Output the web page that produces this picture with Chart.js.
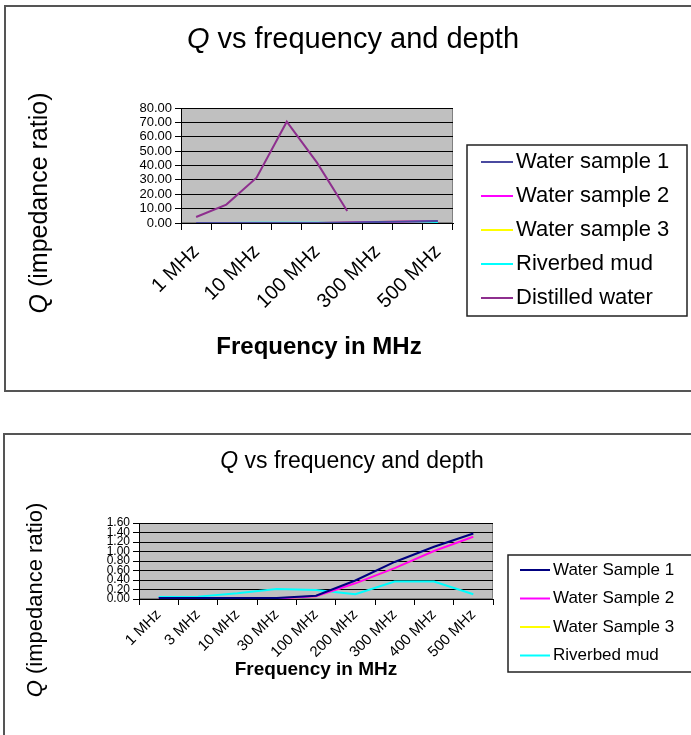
<!DOCTYPE html>
<html>
<head>
<meta charset="utf-8">
<script src="https://cdn.jsdelivr.net/npm/chart.js@4"></script>
<style>
body { margin: 0; background: #fff; width: 691px; height: 735px; overflow: hidden; position: relative; }
.box { position: absolute; border: 2px solid #555; }
#box1 { left: 4px; top: 5px; width: 720px; height: 383px; }
#box2 { left: 3px; top: 433px; width: 720px; height: 330px; }
canvas { position: absolute; left: 0; }
#c1 { top: 0; }
#c2 { top: 420px; }
</style>
</head>
<body>
<div class="box" id="box1"></div>
<div class="box" id="box2"></div>
<canvas id="c1" width="691" height="410"></canvas>
<canvas id="c2" width="691" height="315"></canvas>
<script>
const FAMILY = '"Liberation Sans", Arial, sans-serif'

// categories shared by both charts
const freqLabels = ["1 MHz", "3 MHz", "10 MHz", "30 MHz", "100 MHz", "200 MHz", "300 MHz", "400 MHz", "500 MHz"]

// Q values
const waterSample1 = [0.02, 0.02, 0.02, 0.02, 0.07, 0.39, 0.78, 1.10, 1.38]
const waterSample2 = [0.01, 0.01, 0.01, 0.01, 0.06, 0.33, 0.65, 1.01, 1.31]
const waterSample3 = [0.01, 0.01, 0.01, 0.01, 0.06, 0.33, 0.65, 1.01, 1.31]
const riverbedMud = [0.04, 0.05, 0.12, 0.21, 0.19, 0.10, 0.37, 0.37, 0.10]
const distilledWater = [4.2, 12.8, 31.5, 70.5, 42.0, 8.4, null, null, null]

const topTicks = [0, 80, 10]
const bottomTicks = [0, 1.6, 0.2]

function drawQText(ctx, rest, size, weight, x, y, rotate) {
    ctx.save()
    ctx.translate(x, y)
    if (rotate) ctx.rotate(-Math.PI / 2)
    const fq = "italic " + weight + " " + size + "px " + FAMILY
    const fr = weight + " " + size + "px " + FAMILY
    ctx.font = fq
    const wq = ctx.measureText("Q").width
    ctx.font = fr
    const wr = ctx.measureText(rest).width
    const sx = -(wq + wr) / 2
    ctx.textBaseline = "middle"
    ctx.textAlign = "left"
    ctx.fillStyle = "#000"
    ctx.font = fq
    ctx.fillText("Q", sx, 0)
    ctx.font = fr
    ctx.fillText(rest, sx + wq, 0)
    ctx.restore()
}

const framePlugin = {
    id: "frame",
    beforeDraw(chart) {
        const ctx = chart.ctx
        const a = chart.chartArea
        ctx.save()
        ctx.fillStyle = "#c0c0c0"
        ctx.fillRect(a.left, a.top, a.width, a.height)
        ctx.strokeStyle = "#808080"
        ctx.lineWidth = 1
        ctx.strokeRect(a.left + 0.5, a.top + 0.5, a.width - 1, a.height - 1)
        ctx.restore()
    },
    afterDraw(chart, args, opts) {
        const ctx = chart.ctx
        drawQText(ctx, " vs frequency and depth", opts.title.size, "normal", opts.title.x, opts.title.y, false)
        drawQText(ctx, " (impedance ratio)", opts.yTitle.size, "normal", opts.yTitle.x, opts.yTitle.y, true)

        ctx.save()
        ctx.fillStyle = "#000"
        ctx.textAlign = "center"
        ctx.textBaseline = "middle"
        ctx.font = "bold " + opts.xTitle.size + "px " + FAMILY
        ctx.fillText("Frequency in MHz", opts.xTitle.x, opts.xTitle.y)

        // boxed legend
        const lg = opts.legend
        ctx.strokeStyle = "#222"
        ctx.lineWidth = 1.5
        ctx.strokeRect(lg.x, lg.y, lg.w, lg.h)
        ctx.font = lg.size + "px " + FAMILY
        ctx.textAlign = "left"
        chart.data.datasets.forEach(function (ds, i) {
            const y = lg.rowY + i * lg.rowGap
            ctx.strokeStyle = ds.borderColor
            ctx.lineWidth = 2
            ctx.beginPath()
            ctx.moveTo(lg.lineX, y)
            ctx.lineTo(lg.lineX + lg.lineLen, y)
            ctx.stroke()
            ctx.fillText(ds.label, lg.lineX + lg.lineLen + 3, y)
        })
        ctx.restore()
    }
}

function lineSet(label, data, color) {
    return {
        label: label,
        data: data,
        borderColor: color,
        backgroundColor: color,
        borderWidth: 2,
        pointRadius: 0,
        tension: 0,
        spanGaps: false
    }
}

function makeOptions(cfg) {
    return {
        responsive: false,
        devicePixelRatio: 1,
        animation: false,
        events: [],
        layout: {padding: cfg.padding},
        plugins: {
            legend: {display: false},
            tooltip: {enabled: false},
            frame: cfg.frame
        },
        scales: {
            x: {
                offset: true,
                grid: {offset: true, drawOnChartArea: false, color: "#000", tickLength: cfg.xTickLen},
                border: {color: "#000"},
                ticks: {
                    autoSkip: false,
                    minRotation: 45,
                    maxRotation: 45,
                    padding: cfg.xPad,
                    color: "#000",
                    font: {family: FAMILY, size: cfg.xFont},
                    callback: function (v, i) { return (i % cfg.every === 0) ? freqLabels[i] : "" }
                },
                afterFit: function (s) { s.height = cfg.xHeight }
            },
            y: {
                min: cfg.ticks[0],
                max: cfg.ticks[1],
                grid: {color: "#000", tickLength: 6},
                border: {color: "#000"},
                ticks: {
                    autoSkip: false,
                    stepSize: cfg.ticks[2],
                    padding: 3,
                    color: "#000",
                    font: {family: FAMILY, size: cfg.yFont},
                    callback: function (v) { return v.toFixed(2) }
                },
                afterFit: function (s) { s.width = cfg.yWidth }
            }
        }
    }
}

new Chart(document.getElementById("c1"), {
    type: "line",
    data: {
        labels: freqLabels,
        datasets: [
            lineSet("Water sample 1", waterSample1, "#4a4aa0"),
            lineSet("Water sample 2", waterSample2, "#ff00ff"),
            lineSet("Water sample 3", waterSample3, "#ffff00"),
            lineSet("Riverbed mud", riverbedMud, "#00ffff"),
            lineSet("Distilled water", distilledWater, "#8e2f8e")
        ]
    },
    options: makeOptions({
        padding: {left: 136, right: 238, top: 108, bottom: 67},
        xTickLen: 7, xPad: 10, xFont: 20, xHeight: 120, every: 2,
        ticks: topTicks, yFont: 13, yWidth: 45,
        frame: {
            title: {size: 29, x: 353, y: 40},
            yTitle: {size: 25, x: 40, y: 203},
            xTitle: {size: 24, x: 319, y: 347},
            legend: {x: 467, y: 145, w: 220, h: 171, rowY: 162, rowGap: 34, lineX: 481, lineLen: 32, size: 22}
        }
    }),
    plugins: [framePlugin]
})

new Chart(document.getElementById("c2"), {
    type: "line",
    data: {
        labels: freqLabels,
        datasets: [
            lineSet("Water Sample 1", waterSample1, "#000080"),
            lineSet("Water Sample 2", waterSample2, "#ff00ff"),
            lineSet("Water Sample 3", waterSample3, "#ffff00"),
            lineSet("Riverbed mud", riverbedMud, "#00ffff")
        ]
    },
    options: makeOptions({
        padding: {left: 99, right: 198, top: 103, bottom: 56},
        xTickLen: 6, xPad: 1, xFont: 15, xHeight: 80, every: 1,
        ticks: bottomTicks, yFont: 12, yWidth: 40,
        frame: {
            title: {size: 23, x: 352, y: 42},
            yTitle: {size: 22, x: 36, y: 180},
            xTitle: {size: 19, x: 316, y: 250},
            legend: {x: 508, y: 135, w: 200, h: 117, rowY: 150, rowGap: 28.5, lineX: 520, lineLen: 30, size: 17}
        }
    }),
    plugins: [framePlugin]
})
</script>
</body>
</html>
